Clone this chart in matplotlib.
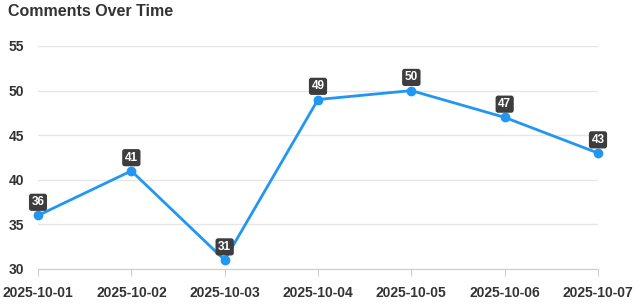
import matplotlib.pyplot as plt

plt.rcParams['font.family'] = ['Liberation Sans', 'DejaVu Sans']

dates = ['2025-10-01', '2025-10-02', '2025-10-03', '2025-10-04',
         '2025-10-05', '2025-10-06', '2025-10-07']
comments = [36, 41, 31, 49, 50, 47, 43]
y_ticks = [30, 35, 40, 45, 50, 55]

line_color = '#2196F3'
text_color = '#333333'

fig = plt.figure(figsize=(6.4, 3.07), dpi=100)
ax = fig.add_axes([38 / 640, 1 - 269 / 307, 560 / 640, 223 / 307])

x = list(range(len(dates)))
ax.plot(x, comments, color=line_color, linewidth=2, marker='o',
        markersize=6, clip_on=False, zorder=3)

# value labels in dark boxes above each point
for xi, v in zip(x, comments):
    ax.annotate(str(v), (xi, v), xytext=(0, 9.5), textcoords='offset points',
                ha='center', va='center', fontsize=8.5, fontweight='bold',
                color='white', zorder=4,
                bbox=dict(boxstyle='round,pad=0.22', fc='#3d3d3d', ec='none'))

ax.set_xlim(0, len(dates) - 1)
ax.set_ylim(30, 55)
ax.set_xticks(x)
ax.set_xticklabels(dates)
ax.set_yticks(y_ticks)
ax.tick_params(axis='x', length=5, color='#cccccc', pad=7,
               labelsize=10, labelcolor=text_color)
ax.tick_params(axis='y', length=0, pad=10, labelsize=10, labelcolor=text_color)
for lbl in ax.get_xticklabels() + ax.get_yticklabels():
    lbl.set_fontweight('bold')

ax.grid(axis='y', color='#e6e6e6', linewidth=1)
ax.set_axisbelow(True)
for s in ['top', 'right', 'left']:
    ax.spines[s].set_visible(False)
ax.spines['bottom'].set_color('#cccccc')

fig.text(8 / 640, 1 - 12 / 307, 'Comments Over Time', fontsize=11.5,
         fontweight='bold', color=text_color, va='center', ha='left')

fig.savefig('out.png', dpi=100)
